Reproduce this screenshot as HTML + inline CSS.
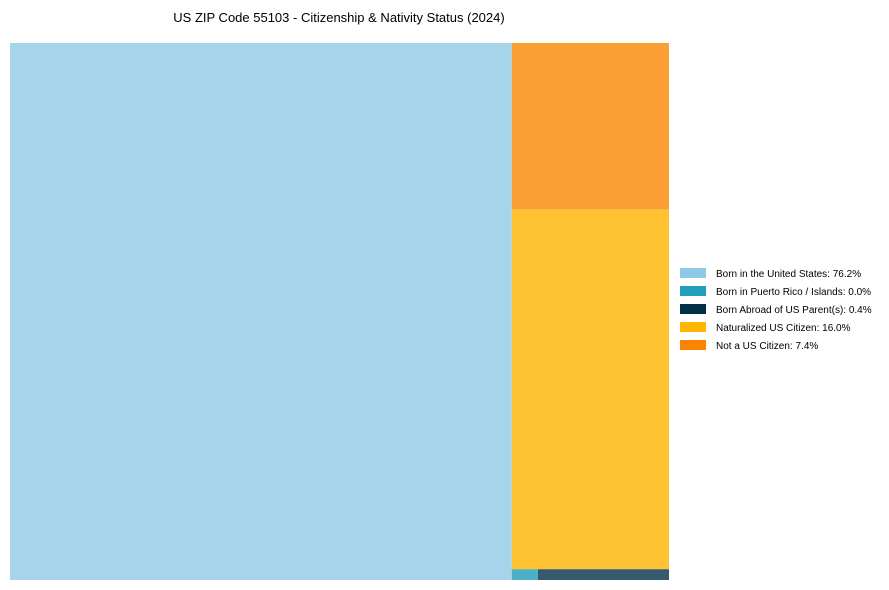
<!DOCTYPE html>
<html><head><meta charset="utf-8"><style>
body{margin:0;background:#fff;font-family:"Liberation Sans",Arial,sans-serif}
svg{display:block}
</style></head><body>
<svg id="chart" width="889" height="590">
<text x="339" y="22" text-anchor="middle" font-size="13" fill="#000">US ZIP Code 55103 - Citizenship &amp; Nativity Status (2024)</text>
<g id="tiles"></g>
<g id="legend"></g>
</svg>
<script>
const categories = ["Born in the United States","Born in Puerto Rico / Islands","Born Abroad of US Parent(s)","Naturalized US Citizen","Not a US Citizen"];
const values = [76.2, 0.08, 0.4, 16.0, 7.4];
const valueLabels = ["76.2%","0.0%","0.4%","16.0%","7.4%"];
const tileColors = ["#a6d4ea","#4bafc6","#355a6d","#fec233","#fb9e34"];
const swatchColors = ["#8ecae6","#219ebc","#023047","#ffb703","#fb8500"];

const NS="http://www.w3.org/2000/svg";
const X0=10,Y0=43,W=659,H=537;
const total=values.reduce((a,b)=>a+b,0);
const tiles=document.getElementById('tiles');
function rect(x,y,w,h,i){
  const r=document.createElementNS(NS,'rect');
  r.setAttribute('x',x);r.setAttribute('y',y);r.setAttribute('width',w);r.setAttribute('height',h);
  r.setAttribute('fill',tileColors[i]);
  
  
  tiles.appendChild(r);
}
// left column: largest
const w0=W*values[0]/total;
rect(X0,Y0,w0,H,0);
const rest=total-values[0];
const cx=X0+w0, cw=W-w0;
// right column: not citizen top, naturalized, then strip of PR + abroad
let y=Y0;
const h4=H*values[4]/rest; rect(cx,y,cw,h4,4); y+=h4;
const h3=H*values[3]/rest; rect(cx,y,cw,h3,3); y+=h3;
const stripH=Y0+H-y, stripSum=values[1]+values[2];
const w1=cw*values[1]/stripSum;
rect(cx,y,w1,stripH,1);
rect(cx+w1,y,cw-w1,stripH,2);

const leg=document.getElementById('legend');
categories.forEach((c,i)=>{
  const ly=268+i*18;
  const s=document.createElementNS(NS,'rect');
  s.setAttribute('x',680);s.setAttribute('y',ly);s.setAttribute('width',26);s.setAttribute('height',10);
  s.setAttribute('fill',swatchColors[i]);
  
  
  leg.appendChild(s);
  const t=document.createElementNS(NS,'text');
  t.setAttribute('x',716);t.setAttribute('y',ly+9);t.setAttribute('font-size','10');
  t.textContent=c+': '+valueLabels[i];
  
  
  leg.appendChild(t);
});
</script>
</body></html>
